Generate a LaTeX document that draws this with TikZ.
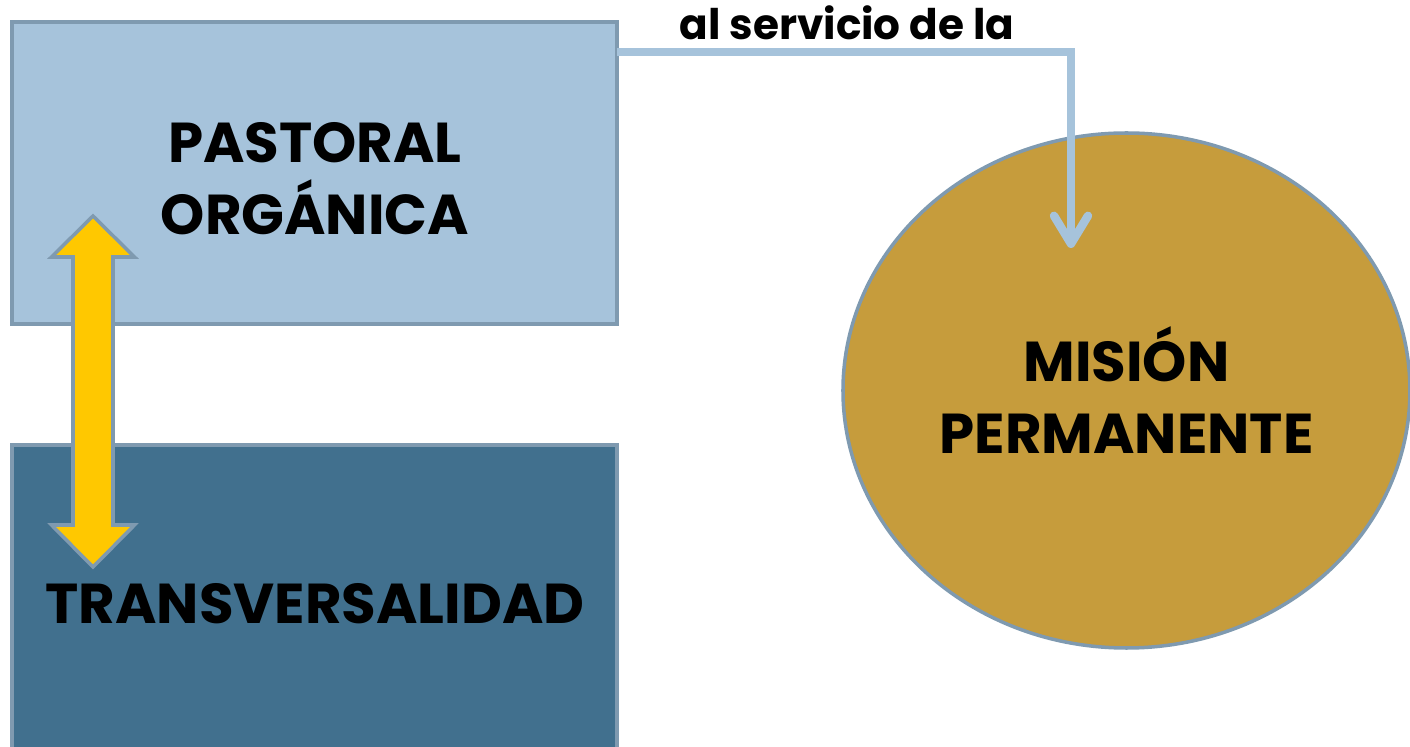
\documentclass[tikz,border=0pt]{standalone}
\usepackage{fontspec}
\setmainfont{Poppins}
\usetikzlibrary{arrows.meta, shapes.geometric}

\definecolor{boxlight}{HTML}{A6C3DB}
\definecolor{boxdark}{HTML}{41708E}
\definecolor{rimgray}{HTML}{7F9AB0}
\definecolor{goldfill}{HTML}{C69C3C}
\definecolor{arrowyellow}{HTML}{FFC800}

\begin{document}
\begin{tikzpicture}[
    box/.style={rectangle, draw=rimgray, line width=1pt, minimum width=6.05cm,
        minimum height=3.02cm, inner sep=0pt, align=center},
    bigtext/.style={font=\bfseries\fontsize{16}{20.5}\selectfont},
    link/.style={line width=2.4pt, draw=boxlight,
        -{Straight Barb[length=0.28cm, width=0.34cm, round]}},
    swap/.style={fill=arrowyellow, draw=rimgray, line width=1pt, line join=miter}
]
    % Fixed frame of the picture
    \useasboundingbox (0,0) rectangle (14.10,7.47);

    % Two boxes on the left
    \node[box, fill=boxlight] (pastoral) at (3.145,5.74) {};
    \node[bigtext, align=center] (pastoraltext) at (3.15,5.685)
        {PASTORAL\\ORGÁNICA};
    \node[box, fill=boxdark, minimum height=3.20cm] (transv) at (3.145,1.42) {};
    \node[bigtext, anchor=center] (transvtext) at (3.15,1.43) {TRANSVERSALIDAD};

    % Ellipse on the right
    \node[ellipse, draw=rimgray, line width=1pt, fill=goldfill, inner sep=0pt,
          minimum width=5.67cm, minimum height=5.15cm, bigtext, align=center]
          (mision) at (11.265,3.565) {MISIÓN\\PERMANENTE};

    % Connector from the top box down into the ellipse
    \coordinate (start) at (6.17,6.95);
    \coordinate (tip) at (10.71,4.99);
    \draw[link] (start) -| (tip);
    \node[font=\bfseries\fontsize{12}{14}\selectfont, anchor=base] (servicio)
        at (8.47,7.07) {al servicio de la};

    % Double arrow between the boxes
    \draw[swap] (0.93,5.31) -- (1.345,4.90) -- (1.13,4.90) -- (1.13,2.22)
        -- (1.345,2.22) -- (0.93,1.80) -- (0.515,2.22) -- (0.73,2.22)
        -- (0.73,4.90) -- (0.515,4.90) -- cycle;

\end{tikzpicture}
\end{document}
